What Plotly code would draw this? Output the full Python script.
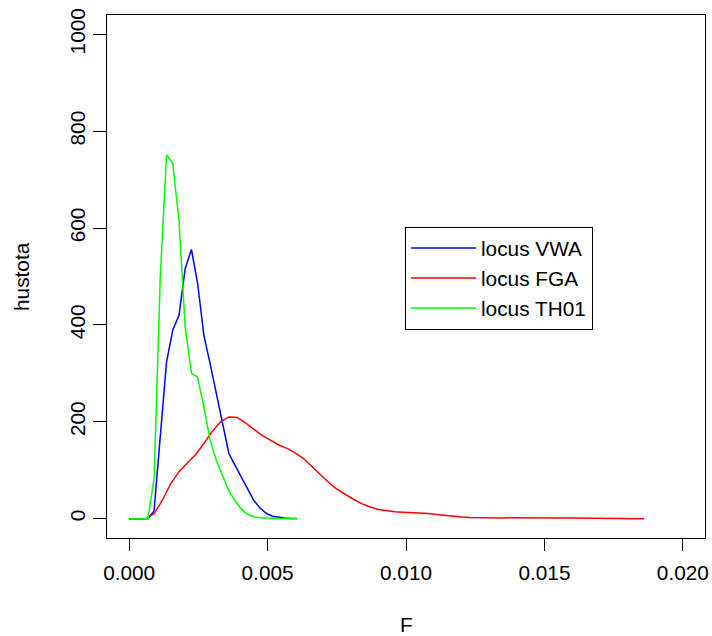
import plotly.graph_objects as go

# ---- data ----
grid_x = [0.0, 0.000225, 0.00045, 0.000675, 0.0009, 0.001125, 0.00135, 0.001575,
          0.0018, 0.002025, 0.00225, 0.002475, 0.0027, 0.002925, 0.00315, 0.003375,
          0.0036, 0.003825, 0.00405, 0.004275, 0.0045, 0.004725, 0.00495, 0.005175,
          0.0054, 0.005625, 0.00585, 0.006075]

vwa_y = [0, 0, 0, 0, 16, 165, 323, 389, 420, 516, 556, 485, 378, 320, 258, 196,
         135, 110, 85, 60, 38, 22, 11, 5, 2.5, 1.2, 0.5, 0.2]

th01_y = [0, 0, 0, 0, 82, 500, 751, 734, 615, 395, 300, 292, 230, 162, 120, 88,
          58, 37, 20, 9, 4, 2, 1, 0.5, 0.3, 0.2, 0.1, 0]

fga_x = [0.0, 0.0006, 0.0009, 0.0012, 0.0015, 0.0018, 0.0021, 0.0024, 0.0027, 0.003,
         0.0033, 0.0036, 0.0039, 0.0042, 0.0045, 0.0048, 0.0051, 0.0054, 0.0057, 0.006,
         0.0063, 0.0066, 0.0069, 0.0072, 0.0075, 0.0078, 0.0081, 0.0084, 0.0087, 0.009,
         0.0093, 0.0096, 0.0099, 0.0102, 0.0105, 0.0108, 0.0111, 0.0114, 0.0117, 0.012,
         0.0123, 0.0126, 0.0129, 0.0132, 0.0135, 0.0138, 0.0141, 0.0144, 0.0147, 0.015,
         0.0153, 0.0156, 0.0159, 0.0162, 0.0165, 0.0168, 0.0171, 0.0174, 0.0177, 0.018,
         0.0183, 0.0186]
fga_y = [0, 0, 10, 38, 72, 97, 115, 132, 155, 180,
         200, 210, 209, 198, 185, 172, 162, 152, 145, 136,
         124, 108, 90, 75, 61, 50, 40, 31, 24, 19,
         16, 14, 13, 12.5, 12, 10.5, 8.5, 6.5, 4.5, 3.5,
         2.5, 2, 1.6, 1.4, 1.5, 1.6, 1.8, 1.9, 2.0, 2.0,
         1.8, 1.5, 1.2, 1.0, 0.8, 0.6, 0.4, 0.3, 0.2, 0.1,
         0.05, 0]

x_ticks = [0.0, 0.005, 0.01, 0.015, 0.02]
x_tick_labels = ["0.000", "0.005", "0.010", "0.015", "0.020"]
y_ticks = [0, 200, 400, 600, 800, 1000]
y_tick_labels = ["0", "200", "400", "600", "800", "1000"]

FONT = "Liberation Sans, Arial, sans-serif"
FS = 20.8
LW = 1.5

fig = go.Figure()
fig.add_trace(go.Scatter(x=grid_x, y=vwa_y, mode="lines", name="locus VWA",
                         line=dict(color="#0000FF", width=LW)))
fig.add_trace(go.Scatter(x=fga_x, y=fga_y, mode="lines", name="locus FGA",
                         line=dict(color="#FF0000", width=LW)))
fig.add_trace(go.Scatter(x=grid_x, y=th01_y, mode="lines", name="locus TH01",
                         line=dict(color="#00FF00", width=LW)))

fig.update_layout(
    width=712, height=636,
    margin=dict(l=107, r=7, t=15, b=98, pad=0),
    paper_bgcolor="white", plot_bgcolor="white",
    font=dict(family=FONT, size=FS, color="black"),
    showlegend=True,
    legend=dict(x=0.498, y=0.595, xanchor="left", yanchor="top",
                bordercolor="black", borderwidth=1.2, bgcolor="white",
                font=dict(size=FS), tracegroupgap=0, itemwidth=65),
    xaxis=dict(range=[-0.0008, 0.0208], tickvals=x_ticks, ticktext=x_tick_labels,
               showgrid=False, zeroline=False, showline=True, mirror=True,
               linecolor="black", linewidth=1.2, ticks="outside", ticklen=12,
               tickwidth=1.2, tickcolor="black", automargin=False,
               ticklabelstandoff=4),
    yaxis=dict(range=[-40, 1040], tickvals=y_ticks, ticktext=y_tick_labels,
               tickangle=-90,
               showgrid=False, zeroline=False, showline=True, mirror=True,
               linecolor="black", linewidth=1.2, ticks="outside", ticklen=13,
               tickwidth=1.2, tickcolor="black", automargin=False),
    annotations=[
        dict(text="F", xref="paper", yref="paper", x=0.5, y=-0.165,
             xanchor="center", yanchor="middle", showarrow=False,
             font=dict(size=FS)),
        dict(text="hustota", xref="paper", yref="paper", x=-0.143, y=0.5,
             xanchor="center", yanchor="middle", showarrow=False, textangle=-90,
             font=dict(size=FS)),
    ],
)

fig.write_html("out.html")
